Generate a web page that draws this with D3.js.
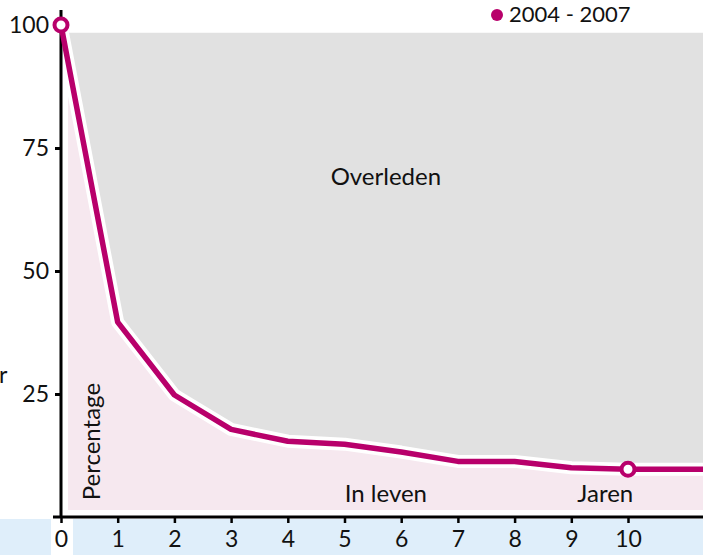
<!DOCTYPE html>
<html>
<head>
<meta charset="utf-8">
<script src="https://cdn.jsdelivr.net/npm/d3@7"></script>
<style>
  body { margin: 0; background: #fff; }
  svg { display: block; font-family: "Lato", "Open Sans", sans-serif; }
</style>
</head>
<body>
<div id="chart"></div>
<script>
// data
var years = [0, 1, 2, 3, 4, 5, 6, 7, 8, 9, 10];
var survival = [100, 39.6, 24.8, 17.8, 15.4, 14.8, 13.2, 11.3, 11.3, 10.0, 9.7];
var markedYears = [0, 10];
var yTicks = [25, 50, 75, 100];
var seriesLabel = "2004 - 2007";

var width = 703, height = 555;
var color = "#b8006b";

var svg = d3.select("#chart").append("svg")
    .attr("width", width)
    .attr("height", height);

var x = d3.scaleLinear().domain([0, 10]).range([61, 628]);
var y = d3.scaleLinear().domain([0, 100]).range([517, 25]);

// extend the last value flat to the right edge
var xEnd = x.invert(width);
var points = years.map(function (d, i) { return {year: d, value: survival[i]}; });
points.push({year: xEnd, value: survival[survival.length - 1]});

// light blue band under the axis
svg.append("rect")
    .attr("x", 0).attr("y", 519)
    .attr("width", width).attr("height", height - 519)
    .attr("fill", "#dfeefa");
svg.append("rect")
    .attr("x", 51).attr("y", 519)
    .attr("width", 22).attr("height", height - 519)
    .attr("fill", "#fff");

// grey area: dead
var topY = y(98.4);
svg.append("path")
    .datum(points)
    .attr("fill", "#e1e1e1")
    .attr("d", d3.area()
        .x(function (d) { return x(d.year); })
        .y0(topY)
        .y1(function (d) { return y(d.value); }));

// pink area: alive
svg.append("clipPath").attr("id", "aliveClip")
    .append("rect")
    .attr("x", x(0) + 7).attr("y", 0)
    .attr("width", width).attr("height", y(0) - 7);
svg.append("path")
    .datum(points)
    .attr("clip-path", "url(#aliveClip)")
    .attr("fill", "#f6e8ef")
    .attr("d", d3.area()
        .x(function (d) { return x(d.year); })
        .y0(y(0))
        .y1(function (d) { return y(d.value); }));

// area labels
function label(txt, xv, yv) {
    return svg.append("text")
        .attr("x", x(xv)).attr("y", y(yv))
        .attr("text-anchor", "middle")
        .attr("font-size", "24px")
        .attr("fill", "#111")
        .text(txt);
}
label("Overleden", 5.73, 67.5);
label("In leven", 5.73, 3.1);
label("Jaren", 9.6, 3.1);
svg.append("text")
    .attr("transform", "translate(" + (x(0) + 39) + "," + y(3.4) + ") rotate(-90)")
    .attr("font-size", "24px")
    .attr("fill", "#111")
    .text("Percentage");
svg.append("text")
    .attr("x", -1).attr("y", y(27.3))
    .attr("font-size", "23px")
    .attr("fill", "#111")
    .text("r");

// line with white halo
var line = d3.line()
    .x(function (d) { return x(d.year); })
    .y(function (d) { return y(d.value); });
svg.append("path")
    .datum(points)
    .attr("fill", "none")
    .attr("stroke", "#fff")
    .attr("stroke-width", 13)
    .attr("stroke-linejoin", "round")
    .attr("d", line);

// axes
var yAxis = svg.append("g")
    .attr("transform", "translate(" + x(0) + ",0)")
    .call(d3.axisLeft(y).tickValues(yTicks).tickSize(6).tickPadding(6));
yAxis.select(".domain").remove();
yAxis.append("line")
    .attr("x1", 0).attr("x2", 0)
    .attr("y1", 10).attr("y2", y(0))
    .attr("stroke", "#000").attr("stroke-width", 3);
yAxis.selectAll(".tick line").attr("stroke-width", 3);
yAxis.selectAll(".tick text")
    .attr("font-size", "23px")
    .attr("font-family", "Lato, sans-serif")
    .attr("fill", "#111");

var xAxis = svg.append("g")
    .attr("transform", "translate(0," + y(0) + ")")
    .call(d3.axisBottom(x).tickValues(years).tickSize(6).tickPadding(8));
xAxis.select(".domain").remove();
xAxis.append("line")
    .attr("x1", 53).attr("x2", width)
    .attr("y1", 0).attr("y2", 0)
    .attr("stroke", "#000").attr("stroke-width", 3);
xAxis.selectAll(".tick line").attr("stroke-width", 2.5);
xAxis.selectAll(".tick text")
    .attr("font-size", "23px")
    .attr("font-family", "Lato, sans-serif")
    .attr("fill", "#111");

// survival line
svg.append("path")
    .datum(points)
    .attr("fill", "none")
    .attr("stroke", color)
    .attr("stroke-width", 5.5)
    .attr("stroke-linejoin", "round")
    .attr("d", line);

// open markers
svg.selectAll(".marker")
    .data(points.filter(function (d) { return markedYears.indexOf(d.year) >= 0; }))
    .enter().append("circle")
    .attr("class", "marker")
    .attr("cx", function (d) { return x(d.year); })
    .attr("cy", function (d) { return y(d.value); })
    .attr("r", 6.5)
    .attr("fill", "#fff")
    .attr("stroke", color)
    .attr("stroke-width", 4);

// legend
var legend = svg.append("g").attr("transform", "translate(497,15)");
legend.append("circle").attr("r", 6).attr("fill", color);
legend.append("text")
    .attr("x", 12).attr("y", 7)
    .attr("font-size", "22px")
    .attr("fill", "#111")
    .text(seriesLabel);
</script>
</body>
</html>
